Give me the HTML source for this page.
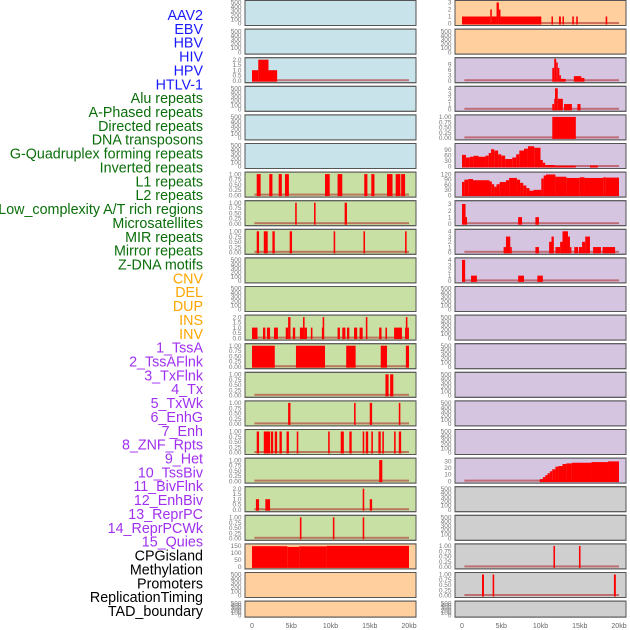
<!DOCTYPE html>
<html><head><meta charset="utf-8"><style>
html,body{margin:0;padding:0;background:#fff;width:630px;height:630px;overflow:hidden}
svg{display:block}
</style></head><body>
<svg id="chart" width="630" height="630" xmlns="http://www.w3.org/2000/svg"></svg>
<script>
const labelNames=["AAV2","EBV","HBV","HIV","HPV","HTLV-1","Alu repeats","A-Phased repeats","Directed repeats","DNA transposons","G-Quadruplex forming repeats","Inverted repeats","L1 repeats","L2 repeats","Low_complexity A/T rich regions","Microsatellites","MIR repeats","Mirror repeats","Z-DNA motifs","CNV","DEL","DUP","INS","INV","1_TssA","2_TssAFlnk","3_TxFlnk","4_Tx","5_TxWk","6_EnhG","7_Enh","8_ZNF_Rpts","9_Het","10_TssBiv","11_BivFlnk","12_EnhBiv","13_ReprPC","14_ReprPCWk","15_Quies","CPGisland","Methylation","Promoters","ReplicationTiming","TAD_boundary"];
const labelGroups=[6,13,5,15,5];
const groupColors=["#1a1aff","#0a6e0a","#ffa500","#a030f0","#000000"];
const xTicks=[0,5,10,15,20];
const xTickLabels=["0","5kb","10kb","15kb","20kb"];
const col1Colors=["b","b","b","b","b","b","g","g","g","g","g","g","g","g","g","g","g","g","g","o","o","o"];
const col2Colors=["o","o","p","p","p","p","p","p","p","p","p","p","p","p","p","p","p","y","y","y","y","y"];
const T_EMPTY=[0,100,200,300,400,500];
const T_ONE=[0,0.25,0.5,0.75,1.0];
const T_TWO=[0,0.5,1.0,1.5,2.0];
// col1 data
const c1r2=[[0,0.8,1],[0.8,2.1,2],[2.1,3.2,1]];
const c1r6=[[0.6,1.1,1],[2.2,2.6,1],[3.4,3.8,1],[4.2,4.7,1],[9.3,9.9,1],[10.9,11.5,1],[14.3,14.7,1],[15.2,15.6,1],[17.2,17.9,1],[18.3,18.9,1],[19.0,19.5,1]];
const c1r7=[[5.5,5.7,1],[7.9,8.1,1],[11.8,12.1,1]];
const c1r8=[[0.6,0.9,1],[1.5,2.0,1],[2.6,2.9,1],[4.8,5.1,1],[10.4,10.6,1],[14.2,14.4,1],[19.5,19.7,1]];
const c1r11=[[0,0.7,1],[1.4,1.7,1],[1.9,2.3,1],[2.8,3.3,1],[4.3,4.6,1],[4.6,4.9,2],[5.2,5.5,1],[6.1,6.5,1],[6.5,6.7,2],[6.7,7.0,1],[7.5,7.7,1],[8.9,9.0,1],[9.0,9.2,2],[10.9,11.2,1],[11.5,11.9,1],[12.1,12.4,1],[13.0,13.4,1],[13.7,14.1,1],[14.5,14.7,2],[16.2,16.5,1],[17.0,17.2,1],[18.1,19.1,1],[19.5,19.6,1],[19.6,19.8,2],[19.8,19.9,1]];
const c1r12=[[0,2.9,1],[5.6,9.3,1],[12.0,13.2,1],[16.4,17.2,1],[19.6,20.0,1]];
const c1r13=[[17.0,17.4,1],[17.6,18.0,1]];
const c1r14=[[4.6,4.9,1],[13.0,13.2,1],[15.0,15.3,1],[18.7,18.9,1]];
const c1r15=[[0.6,0.9,1],[1.5,2.3,1],[2.4,2.7,1],[2.9,3.2,1],[3.5,3.8,1],[4.4,4.7,1],[5.7,5.9,1],[9.7,9.9,1],[11.3,11.7,1],[12.4,12.7,1],[14.1,14.3,1],[14.5,14.8,1],[15.2,15.4,1],[16.1,16.4,1],[16.6,16.8,1],[18.1,18.3,1],[18.7,19.0,1]];
const c1r16=[[16.2,16.6,1]];
const c1r17=[[0.5,0.9,1],[1.7,2.3,1],[14.1,14.3,2],[15.0,15.3,1]];
const c1r18=[[6.1,6.3,1],[10.3,10.5,1],[14.1,14.3,1]];
const c1r19=[[0,4.5,148],[4.5,6.0,143],[6.0,9.5,147],[9.5,20.0,150]];
// col2 data
const c2r0=[[0,3.6,1],[3.6,3.8,2],[3.8,4.4,1],[4.4,4.7,3],[4.7,4.9,2],[4.9,10.1,1],[11.4,11.5,1],[12.35,12.6,1],[12.8,12.95,1],[14.05,14.25,1],[14.55,14.75,1],[18.3,18.5,1]];
const c2r2=[[11.5,11.75,7],[11.75,12.0,12],[12.0,12.2,10],[12.2,12.4,7],[12.4,12.6,3],[12.6,13.2,1],[14.25,15.2,2.5],[15.2,15.6,1.5]];
const c2r3=[[11.5,11.75,1],[11.75,11.85,2],[11.85,12.2,4],[12.2,12.35,2],[12.35,12.85,2],[13.0,14.0,1],[14.7,15.1,1]];
const c2r4=[[11.5,14.5,1]];
const c2r5=[[0,0.5,62],[0.5,1.0,48],[1.0,1.45,52],[1.45,2.1,57],[2.1,3.0,52],[3.0,3.4,58],[3.4,3.7,72],[3.7,4.1,92],[4.1,4.6,85],[4.6,5.0,65],[5.0,5.5,58],[5.5,6.4,40],[6.4,6.9,48],[6.9,7.3,65],[7.3,7.9,85],[7.9,8.4,95],[8.4,9.2,108],[9.2,10.0,100],[10.0,10.3,35],[10.3,10.6,20],[10.6,11.8,8],[11.8,14.5,4],[16.3,17.3,5]];
const c2r6=[[0,0.3,75],[0.3,0.8,88],[0.8,1.4,92],[1.4,3.5,85],[3.5,3.8,78],[3.8,4.1,62],[4.1,4.4,48],[4.4,4.8,62],[4.8,5.6,75],[5.6,6.0,85],[6.0,7.0,98],[7.0,7.4,88],[7.4,7.8,70],[7.8,8.2,55],[8.2,8.6,40],[8.6,9.1,25],[9.1,10.1,30],[10.1,10.4,95],[10.4,10.7,112],[10.7,11.9,118],[11.9,13.3,105],[13.3,15.0,98],[15.0,15.6,102],[15.6,18.0,98],[18.0,18.3,102],[18.3,20.0,100]];
const c2r7=[[0,0.45,3],[0.45,0.6,1],[7.15,7.65,1],[9.35,9.8,1]];
const c2r8=[[5.3,5.6,1],[5.6,6.15,3],[6.15,6.3,1],[9.35,9.8,1],[11.1,11.4,2],[11.4,11.7,3],[11.9,12.5,1],[12.5,12.8,2],[12.8,13.5,4],[13.5,13.75,3],[13.75,13.9,1],[14.3,14.8,1],[14.9,15.3,1],[15.3,15.7,2],[15.7,16.3,3],[16.7,17.7,1],[17.9,19.5,1]];
const c2r9=[[0,0.4,4],[1.15,1.9,1],[7.15,7.9,1],[9.6,10.3,1]];
const c2r16=[[9.9,10.3,3],[10.3,10.6,6],[10.6,10.9,9],[10.9,11.2,12],[11.2,11.5,15],[11.5,11.9,18],[11.9,12.3,22],[12.3,12.8,23],[12.8,13.3,26],[13.3,14.0,27],[14.0,16.5,28],[16.5,18.6,29],[18.6,20.0,30]];
const c2r19=[[11.65,11.85,1],[14.9,15.1,1]];
const c2r20=[[2.55,2.8,1],[3.9,4.1,1],[19.35,19.6,1]];

const col1Data={2:[c1r2,T_TWO,2,1],6:[c1r6,T_ONE,1,2],7:[c1r7,T_ONE,1,2],8:[c1r8,T_ONE,1,2],11:[c1r11,T_TWO,2,1],12:[c1r12,T_ONE,1,2],13:[c1r13,T_ONE,1,2],14:[c1r14,T_ONE,1,2],15:[c1r15,T_ONE,1,2],16:[c1r16,T_ONE,1,2],17:[c1r17,T_TWO,2,1],18:[c1r18,T_ONE,1,2],19:[c1r19,[0,50,100,150],150,0]};
const col2Data={0:[c2r0,[0,1,2,3],3,0],2:[c2r2,[0,3,6,9],11.5,0],3:[c2r3,[0,1,2,3,4],4,0],4:[c2r4,T_ONE,1,2],5:[c2r5,[0,30,60,90],112,0],6:[c2r6,[0,30,60,90,120],120,0],7:[c2r7,[0,1,2,3],3.2,0],8:[c2r8,[0,1,2,3,4],4,0],9:[c2r9,[0,1,2,3,4],4,0],16:[c2r16,[0,10,20,30],32,0],19:[c2r19,T_ONE,1,2],20:[c2r20,T_ONE,1,2]};

const NS="http://www.w3.org/2000/svg";
const svg=document.getElementById('chart');
const fills={b:"#c8e3ea",g:"#c9e0a5",o:"#ffcf9e",p:"#d5c5e1",y:"#cfcfcf"};
function mk(tag,attrs,parent){const e=document.createElementNS(NS,tag);for(const k in attrs)e.setAttribute(k,attrs[k]);(parent||svg).appendChild(e);return e;}
const PITCH=28.6;
function rowTop(i){return 0.5+i*PITCH;}
function rowH(i){return i===21?16:25;}
function xScale(col,kb){return (col===0?252:462)+kb*7.85;}

let li=0;
labelGroups.forEach((n,g)=>{for(let k=0;k<n;k++){
  const t=mk('text',{x:203,y:15+li*13.86+5,'text-anchor':'end','font-family':'Liberation Sans, sans-serif','font-size':'14.3',fill:groupColors[g]});
  
  
  t.textContent=labelNames[li];li++;}});

function drawPanel(col,i){
  const x0=col===0?245:455, w=171, top=rowTop(i), h=rowH(i);
  const colorKey=(col===0?col1Colors:col2Colors)[i];
  const g=mk('g',{});
  
  
  const r=mk('rect',{x:x0,y:top,width:w,height:h,fill:fills[colorKey],stroke:'#555','stroke-width':1},g);
  
  
  const d=(col===0?col1Data:col2Data)[i];
  const ticks=d?d[1]:T_EMPTY, ymax=d?d[2]:500, dec=d?d[3]:0;
  const yB=top+h-2, yT=top+2;
  const yS=v=>yB-(v/ymax)*(yB-yT);
  const tx=col===0?241.5:451.5;
  ticks.forEach(tv=>{
    const t=mk('text',{x:tx,y:yS(tv)+2.2,'text-anchor':'end','font-family':'Liberation Sans, sans-serif','font-size':'6.5',fill:'#777'},g);
    
    
    t.textContent=tv.toFixed(dec);
  });
  if(d){
    const base=mk('rect',{x:xScale(col,0.3),y:yB-1.5,width:xScale(col,20)-xScale(col,0.3),height:2,fill:'#b03030',opacity:0.6},g);
    
    
    d[0].forEach(s=>{
      const x1=xScale(col,s[0]),x2=xScale(col,s[1]);
      const yv=Math.max(yS(s[2]),top+0.5);
      const b=mk('rect',{x:x1,y:yv,width:Math.max(x2-x1,1.5),height:yB-yv+1,fill:'#ff0000'},g);
      
      
    });
  }
  mk('rect',{x:x0,y:top,width:w,height:h,fill:'none',stroke:'#555','stroke-width':1},g);
}
for(let c=0;c<2;c++)for(let i=0;i<22;i++)drawPanel(c,i);

for(let c=0;c<2;c++){xTicks.forEach((kb,k)=>{
  const t=mk('text',{x:xScale(c,kb),y:628,'text-anchor':'middle','font-family':'Liberation Sans, sans-serif','font-size':'7',fill:'#666'});
  
  
  t.textContent=xTickLabels[k];});}
</script>
</body></html>
